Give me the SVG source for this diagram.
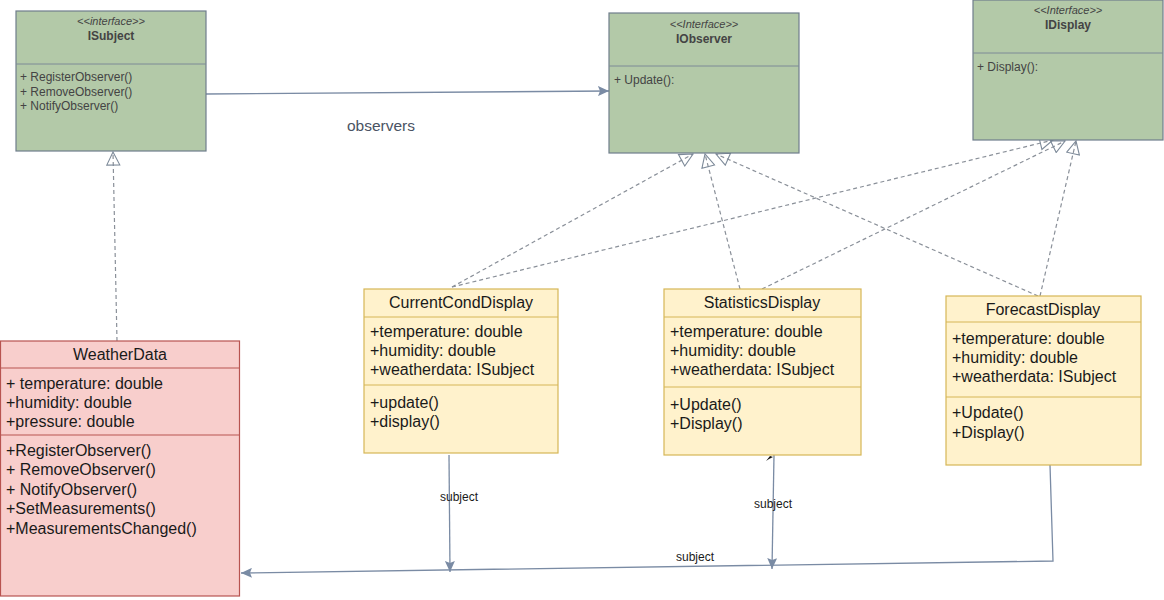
<svg xmlns="http://www.w3.org/2000/svg" width="1164" height="600" viewBox="0 0 1164 600">
<defs>
<style>
.g{fill:#b3c9a8;stroke:#6f7e8c;stroke-width:1.2}
.p{fill:#f8cecc;stroke:#b85450;stroke-width:1.2}
.y{fill:#fff2cc;stroke:#d6b656;stroke-width:1.2}
.gl{stroke:#7d8a96;stroke-width:1}
.pl{stroke:#b85450;stroke-width:1}
.yl{stroke:#d6b656;stroke-width:1}
.st{font-family:"Liberation Sans",Arial,sans-serif;font-size:11px;font-style:italic;fill:#444;text-anchor:middle}
.nm{font-family:"Liberation Sans",Arial,sans-serif;font-size:12px;font-weight:bold;fill:#444;text-anchor:middle}
.sm{font-family:"Liberation Sans",Arial,sans-serif;font-size:12px;fill:#444}
.t{font-family:"Liberation Sans",Arial,sans-serif;font-size:16px;fill:#1a1a1a}
.tc{font-family:"Liberation Sans",Arial,sans-serif;font-size:16px;fill:#1a1a1a;text-anchor:middle}
.lb{font-family:"Liberation Sans",Arial,sans-serif;font-size:12px;fill:#1a1a1a;text-anchor:middle}
.ob{font-family:"Liberation Sans",Arial,sans-serif;font-size:15.5px;fill:#4a5363;text-anchor:middle}
.dash{fill:none;stroke:#8a9099;stroke-width:1.2;stroke-dasharray:4 3}
.assoc{fill:none;stroke:#7a8ba4;stroke-width:1.3}
</style>
<marker id="tri" markerUnits="userSpaceOnUse" viewBox="0 0 15 15" refX="14" refY="7.5" markerWidth="15" markerHeight="15" orient="auto">
<path d="M1,1 L14,7.5 L1,14 Z" fill="none" stroke="#7d8a99" stroke-width="1.1"/>
</marker>
<marker id="blk" markerUnits="userSpaceOnUse" viewBox="0 0 12 10" refX="11" refY="5" markerWidth="12" markerHeight="10" orient="auto">
<path d="M0,0 L11,5 L0,10 L2,5 Z" fill="#7a8ba4"/>
</marker>
</defs>

<g id="connectors">
<path class="assoc" d="M206,94 L609,91" marker-end="url(#blk)"/>
<path class="dash" d="M117,341 L113,152" marker-end="url(#tri)"/>
<path class="dash" d="M452,287 L693,154" marker-end="url(#tri)"/>
<path class="dash" d="M740,289 L705,154" marker-end="url(#tri)"/>
<path class="dash" d="M1038,296 L716,154" marker-end="url(#tri)"/>
<path class="dash" d="M452,287 L1053,140" marker-end="url(#tri)"/>
<path class="dash" d="M762,289 L1065,141" marker-end="url(#tri)"/>
<path class="dash" d="M1040,296 L1076,141" marker-end="url(#tri)"/>
<path class="assoc" d="M449,455 L450,572" marker-end="url(#blk)"/>
<path class="assoc" d="M774,455 L772,569" marker-end="url(#blk)"/>
<path class="assoc" d="M1050,465 L1053,561 L241,573" marker-end="url(#blk)"/>
<path d="M766,461 L770,456 L773,457 L769,459 Z" fill="#111"/>
<text class="ob" x="381" y="131">observers</text>
<text class="lb" x="459" y="501">subject</text>
<text class="lb" x="773" y="508">subject</text>
<text class="lb" x="695" y="561">subject</text>
</g>

<g id="ISubject">
<rect class="g" x="16" y="11" width="190" height="140"/>
<line class="gl" x1="16" y1="64" x2="206" y2="64"/>
<text class="st" x="111" y="25">&lt;&lt;interface&gt;&gt;</text>
<text class="nm" x="111" y="40">ISubject</text>
<text class="sm" x="20" y="81">+ RegisterObserver()</text>
<text class="sm" x="20" y="96">+ RemoveObserver()</text>
<text class="sm" x="20" y="110">+ NotifyObserver()</text>
</g>

<g id="IObserver">
<rect class="g" x="609" y="13" width="190" height="140"/>
<line class="gl" x1="609" y1="66" x2="799" y2="66"/>
<text class="st" x="704" y="28">&lt;&lt;Interface&gt;&gt;</text>
<text class="nm" x="704" y="43">IObserver</text>
<text class="sm" x="614" y="84">+ Update():</text>
</g>

<g id="IDisplay">
<rect class="g" x="973" y="0" width="190" height="140"/>
<line class="gl" x1="973" y1="53" x2="1163" y2="53"/>
<text class="st" x="1068" y="14">&lt;&lt;Interface&gt;&gt;</text>
<text class="nm" x="1068" y="29">IDisplay</text>
<text class="sm" x="977" y="71">+ Display():</text>
</g>

<g id="WeatherData">
<rect class="p" x="0.5" y="341" width="239" height="255"/>
<line class="pl" x1="0.5" y1="368" x2="239.5" y2="368"/>
<line class="pl" x1="0.5" y1="435" x2="239.5" y2="435"/>
<text class="tc" x="120" y="360">WeatherData</text>
<text class="t" x="6" y="389">+ temperature: double</text>
<text class="t" x="6" y="408">+humidity: double</text>
<text class="t" x="6" y="427">+pressure: double</text>
<text class="t" x="6" y="456">+RegisterObserver()</text>
<text class="t" x="6" y="475">+ RemoveObserver()</text>
<text class="t" x="6" y="495">+ NotifyObserver()</text>
<text class="t" x="6" y="514">+SetMeasurements()</text>
<text class="t" x="6" y="534">+MeasurementsChanged()</text>
</g>

<g id="CurrentCondDisplay">
<rect class="y" x="364" y="289" width="194" height="164"/>
<line class="yl" x1="364" y1="317" x2="558" y2="317"/>
<line class="yl" x1="364" y1="385" x2="558" y2="385"/>
<text class="tc" x="461" y="308">CurrentCondDisplay</text>
<text class="t" x="370" y="337">+temperature: double</text>
<text class="t" x="370" y="356">+humidity: double</text>
<text class="t" x="370" y="375">+weatherdata: ISubject</text>
<text class="t" x="370" y="408">+update()</text>
<text class="t" x="370" y="427">+display()</text>
</g>

<g id="StatisticsDisplay">
<rect class="y" x="664" y="289" width="197" height="166"/>
<line class="yl" x1="664" y1="317" x2="861" y2="317"/>
<line class="yl" x1="664" y1="387" x2="861" y2="387"/>
<text class="tc" x="762" y="308">StatisticsDisplay</text>
<text class="t" x="670" y="337">+temperature: double</text>
<text class="t" x="670" y="356">+humidity: double</text>
<text class="t" x="670" y="375">+weatherdata: ISubject</text>
<text class="t" x="670" y="410">+Update()</text>
<text class="t" x="670" y="429">+Display()</text>
</g>

<g id="ForecastDisplay">
<rect class="y" x="946" y="296" width="195" height="169"/>
<line class="yl" x1="946" y1="322" x2="1141" y2="322"/>
<line class="yl" x1="946" y1="397" x2="1141" y2="397"/>
<text class="tc" x="1043" y="315">ForecastDisplay</text>
<text class="t" x="952" y="344">+temperature: double</text>
<text class="t" x="952" y="363">+humidity: double</text>
<text class="t" x="952" y="382">+weatherdata: ISubject</text>
<text class="t" x="952" y="418">+Update()</text>
<text class="t" x="952" y="438">+Display()</text>
</g>
</svg>
